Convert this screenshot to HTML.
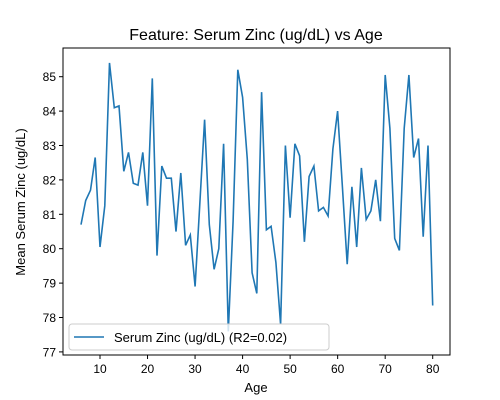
<!DOCTYPE html>
<html><head><meta charset="utf-8"><style>
body{margin:0;background:#fff;}
svg{display:block;font-family:"Liberation Sans","DejaVu Sans",sans-serif;}
</style></head><body>
<svg width="500" height="400">
<text x="256" y="40" font-size="16" text-anchor="middle">Feature: Serum Zinc (ug/dL) vs Age</text>
<g id="xt"></g>
<g id="yt"></g>
<path id="line" fill="none" stroke="#1f77b4" stroke-width="1.6"/>
<rect x="63" y="48" width="387" height="307" fill="none" stroke="#000" stroke-width="1"/>
<text x="256" y="392" font-size="13" text-anchor="middle">Age</text>
<text transform="translate(25,202) rotate(-90)" font-size="13" text-anchor="middle">Mean Serum Zinc (ug/dL)</text>
<g>
<rect x="69" y="324" width="260" height="26" rx="3" fill="#fff" fill-opacity="0.8" stroke="#ccc"/>
<line x1="74" y1="337" x2="104" y2="337" stroke="#1f77b4" stroke-width="1.6"/>
<text x="114" y="342" font-size="13">Serum Zinc (ug/dL) (R2=0.02)</text>
</g>
</svg>
<script>
const ages=[];for(let a=6;a<=80;a++)ages.push(a);
const values=[80.7,81.4,81.7,82.65,80.05,81.25,85.4,84.1,84.15,82.25,82.8,81.9,81.85,82.8,81.25,84.95,79.8,82.4,82.05,82.05,80.5,82.2,80.1,80.4,78.9,81.3,83.75,80.7,79.4,80.0,83.05,77.6,80.8,85.2,84.4,82.6,79.3,78.7,84.55,80.55,80.65,79.6,77.8,83.0,80.9,83.05,82.7,80.2,82.1,82.4,81.1,81.2,80.95,82.9,84.0,81.8,79.55,81.8,80.05,82.35,80.85,81.1,82.0,80.8,85.05,83.5,80.3,79.95,83.5,85.05,82.65,83.2,80.35,83.0,78.35];
const xTicks=[10,20,30,40,50,60,70,80];
const yTicks=[77,78,79,80,81,82,83,84,85];
const X=v=>100+(v-10)*4.753;
const Y=v=>76.7+(85-v)*34.4;
const NS="http://www.w3.org/2000/svg";
document.getElementById('line').setAttribute('d',ages.map((a,i)=>(i?'L':'M')+X(a).toFixed(1)+','+Y(values[i]).toFixed(1)).join(''));
const xt=document.getElementById('xt');
xTicks.forEach(t=>{
const l=document.createElementNS(NS,'line');l.setAttribute('x1',X(t));l.setAttribute('x2',X(t));l.setAttribute('y1',355);l.setAttribute('y2',359);l.setAttribute('stroke','#000');


xt.appendChild(l);
const s=document.createElementNS(NS,'text');s.setAttribute('x',X(t));s.setAttribute('y',373);s.setAttribute('font-size','12');s.setAttribute('text-anchor','middle');s.textContent=t;


xt.appendChild(s);});
const yt=document.getElementById('yt');
yTicks.forEach(t=>{
const l=document.createElementNS(NS,'line');l.setAttribute('x1',59);l.setAttribute('x2',63);l.setAttribute('y1',Y(t));l.setAttribute('y2',Y(t));l.setAttribute('stroke','#000');


yt.appendChild(l);
const s=document.createElementNS(NS,'text');s.setAttribute('x',56);s.setAttribute('y',Y(t)+4.5);s.setAttribute('font-size','12');s.setAttribute('text-anchor','end');s.textContent=t;


yt.appendChild(s);});
</script>
</body></html>
